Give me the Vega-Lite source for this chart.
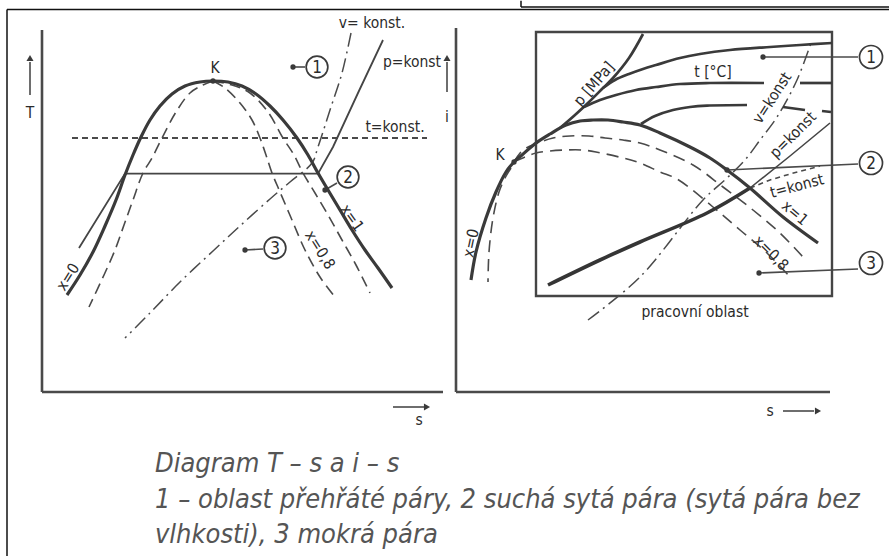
{
  "$schema": "https://vega.github.io/schema/vega-lite/v6.json",
  "background": "white",
  "padding": {"left": 6, "top": 0, "right": 0, "bottom": 0},
  "bounds": "flush",
  "spacing": 11,
  "config": {
    "view": {"stroke": null},
    "text": {"font": "DejaVu Sans Condensed, Liberation Sans Narrow, sans-serif", "fontSize": 15.5, "color": "#2b2b2b"}
  },
  "datasets": {
    "tsCurves": [
      {"k": "sat", "o": 1, "s": 6.25, "T": 24.25}, {"k": "sat", "o": 2, "s": 9.5, "T": 29.25},
      {"k": "sat", "o": 3, "s": 12.75, "T": 35}, {"k": "sat", "o": 4, "s": 15.75, "T": 41.5},
      {"k": "sat", "o": 5, "s": 18.5, "T": 48}, {"k": "sat", "o": 6, "s": 20.75, "T": 54.25},
      {"k": "sat", "o": 7, "s": 22.75, "T": 59.25}, {"k": "sat", "o": 8, "s": 24.75, "T": 63.75},
      {"k": "sat", "o": 9, "s": 27, "T": 68}, {"k": "sat", "o": 10, "s": 29.5, "T": 71.5},
      {"k": "sat", "o": 11, "s": 32.5, "T": 74.5}, {"k": "sat", "o": 12, "s": 35.75, "T": 76.5},
      {"k": "sat", "o": 13, "s": 39.5, "T": 77.5}, {"k": "sat", "o": 14, "s": 42.75, "T": 77.75},
      {"k": "sat", "o": 15, "s": 46.5, "T": 77.5}, {"k": "sat", "o": 16, "s": 50, "T": 76.5},
      {"k": "sat", "o": 17, "s": 53.5, "T": 74.5}, {"k": "sat", "o": 18, "s": 57, "T": 71.5},
      {"k": "sat", "o": 19, "s": 60.25, "T": 68}, {"k": "sat", "o": 20, "s": 63.75, "T": 63.5},
      {"k": "sat", "o": 21, "s": 66.5, "T": 59.25}, {"k": "sat", "o": 22, "s": 69, "T": 54.75},
      {"k": "sat", "o": 23, "s": 71.5, "T": 50.5}, {"k": "sat", "o": 24, "s": 74.5, "T": 45.5},
      {"k": "sat", "o": 25, "s": 77.5, "T": 40.5}, {"k": "sat", "o": 26, "s": 80.75, "T": 35.5},
      {"k": "sat", "o": 27, "s": 84, "T": 31}, {"k": "sat", "o": 28, "s": 87.5, "T": 26},

      {"k": "dL", "o": 1, "s": 42.75, "T": 77.75}, {"k": "dL", "o": 2, "s": 40.25, "T": 76.75},
      {"k": "dL", "o": 3, "s": 37, "T": 74.75}, {"k": "dL", "o": 4, "s": 33.5, "T": 70},
      {"k": "dL", "o": 5, "s": 30, "T": 63.5}, {"k": "dL", "o": 6, "s": 27.5, "T": 58.5},
      {"k": "dL", "o": 7, "s": 25.25, "T": 54.75}, {"k": "dL", "o": 8, "s": 22.75, "T": 48},
      {"k": "dL", "o": 9, "s": 20.5, "T": 41.75}, {"k": "dL", "o": 10, "s": 18.25, "T": 35.5},
      {"k": "dL", "o": 11, "s": 15.5, "T": 29.25}, {"k": "dL", "o": 12, "s": 11.75, "T": 21.25},

      {"k": "dA", "o": 1, "s": 42.75, "T": 77.75}, {"k": "dA", "o": 2, "s": 45.75, "T": 76},
      {"k": "dA", "o": 3, "s": 49.5, "T": 72.25}, {"k": "dA", "o": 4, "s": 52.5, "T": 68},
      {"k": "dA", "o": 5, "s": 54.5, "T": 63.5}, {"k": "dA", "o": 6, "s": 56, "T": 59.25},
      {"k": "dA", "o": 7, "s": 57.5, "T": 54.75}, {"k": "dA", "o": 8, "s": 59.5, "T": 50},
      {"k": "dA", "o": 9, "s": 62.5, "T": 43}, {"k": "dA", "o": 10, "s": 65.75, "T": 35.5},
      {"k": "dA", "o": 11, "s": 69.5, "T": 28.75}, {"k": "dA", "o": 12, "s": 73.25, "T": 23.75},

      {"k": "dB", "o": 1, "s": 42.75, "T": 77.75}, {"k": "dB", "o": 2, "s": 47.5, "T": 76.75},
      {"k": "dB", "o": 3, "s": 52, "T": 74.75}, {"k": "dB", "o": 4, "s": 56.5, "T": 70},
      {"k": "dB", "o": 5, "s": 60.25, "T": 63.5}, {"k": "dB", "o": 6, "s": 63, "T": 59.25},
      {"k": "dB", "o": 7, "s": 65.25, "T": 54.75}, {"k": "dB", "o": 8, "s": 68.25, "T": 49.75},
      {"k": "dB", "o": 9, "s": 71.5, "T": 44.25}, {"k": "dB", "o": 10, "s": 75, "T": 38},
      {"k": "dB", "o": 11, "s": 78.5, "T": 31.75}, {"k": "dB", "o": 12, "s": 82, "T": 24.75},

      {"k": "pk", "o": 1, "s": 9.25, "T": 36}, {"k": "pk", "o": 2, "s": 20.75, "T": 54.6},
      {"k": "pk", "o": 3, "s": 69, "T": 54.6}, {"k": "pk", "o": 4, "s": 72.75, "T": 61.25},
      {"k": "pk", "o": 5, "s": 79, "T": 74.75}, {"k": "pk", "o": 6, "s": 85.25, "T": 88},

      {"k": "vk", "o": 1, "s": 77.25, "T": 89.75}, {"k": "vk", "o": 2, "s": 75, "T": 79.75},
      {"k": "vk", "o": 3, "s": 72, "T": 70.5}, {"k": "vk", "o": 4, "s": 69, "T": 61.25},
      {"k": "vk", "o": 5, "s": 67.5, "T": 57.25}, {"k": "vk", "o": 6, "s": 62, "T": 52.5},
      {"k": "vk", "o": 7, "s": 57, "T": 48.25}, {"k": "vk", "o": 8, "s": 49.5, "T": 41.5},
      {"k": "vk", "o": 9, "s": 42.75, "T": 35.25}, {"k": "vk", "o": 10, "s": 34.5, "T": 27.5},
      {"k": "vk", "o": 11, "s": 27, "T": 19.75}, {"k": "vk", "o": 12, "s": 20.75, "T": 13.5},

      {"k": "tk", "o": 1, "s": 7.5, "T": 63.5}, {"k": "tk", "o": 2, "s": 96.25, "T": 63.5}
    ],
    "tsRules": [
      {"k": "frame", "s": -8.75, "T": 95.625, "s2": 211.75, "T2": 95.625},
      {"k": "frame", "s": -8.75, "T": 95.625, "s2": -8.75, "T2": -41},
      {"k": "frame", "s": 119.75, "T": 97.8, "s2": 119.75, "T2": 96.25},
      {"k": "frame", "s": 119.75, "T": 96.25, "s2": 211.75, "T2": 96.25},
      {"k": "axis", "s": 0, "T": 0, "s2": 0, "T2": 90.5},
      {"k": "axis", "s": 0, "T": 0, "s2": 100.25, "T2": 0},
      {"k": "thin", "s": 87.75, "T": -3.75, "s2": 95.5, "T2": -3.75},
      {"k": "thin", "s": -3, "T": 74.25, "s2": -3, "T2": 82.5},
      {"k": "thin", "s": 62.75, "T": 81.25, "s2": 65.75, "T2": 81.25},
      {"k": "thin", "s": 70.75, "T": 50.5, "s2": 73.75, "T2": 52.25},
      {"k": "thin", "s": 50.75, "T": 35.5, "s2": 55.25, "T2": 35.75}
    ],
    "tsMarks": [
      {"k": "dot", "s": 62.75, "T": 81.25}, {"k": "dot", "s": 70.75, "T": 50.5},
      {"k": "dot", "s": 50.75, "T": 35.5}, {"k": "dot", "s": 42.75, "T": 77.75},
      {"k": "right", "s": 96.25, "T": -3.75}, {"k": "up", "s": -3, "T": 83.5},
      {"k": "ring", "s": 68.75, "T": 81.25, "text": "1"},
      {"k": "ring", "s": 76.5, "T": 53.75, "text": "2"},
      {"k": "ring", "s": 58.25, "T": 36, "text": "3"}
    ],
    "tsText": [
      {"k": "flat", "s": 43.25, "T": 81, "text": "K"},
      {"k": "flat", "s": 82.5, "T": 92.25, "text": "v= konst."},
      {"k": "flat", "s": 92.5, "T": 82.5, "text": "p=konst"},
      {"k": "flat", "s": 88.25, "T": 66.25, "text": "t=konst."},
      {"k": "flat", "s": -3, "T": 69.75, "text": "T"},
      {"k": "flat", "s": 94.25, "T": -7, "text": "s"},
      {"k": "x1", "s": 77.5, "T": 43.5, "text": "x=1"},
      {"k": "x08", "s": 69.5, "T": 35.5, "text": "x=0,8"},
      {"k": "x0", "s": 6.5, "T": 28.75, "text": "x=0"},
      {"k": "cap", "s": 28.25, "T": -20, "text": "Diagram T – s a i – s"},
      {"k": "cap", "s": 28.25, "T": -29, "text": "1 – oblast přehřáté páry, 2 suchá sytá pára (sytá pára bez"},
      {"k": "cap", "s": 28.25, "T": -37.75, "text": "vlhkosti), 3 mokrá pára"}
    ],
    "isCurves": [
      {"k": "sat", "o": 1, "s": 3.75, "i": 28}, {"k": "sat", "o": 2, "s": 5, "i": 35},
      {"k": "sat", "o": 3, "s": 7.5, "i": 43.5}, {"k": "sat", "o": 4, "s": 10, "i": 50},
      {"k": "sat", "o": 5, "s": 12.5, "i": 55}, {"k": "sat", "o": 6, "s": 14.5, "i": 57.5},
      {"k": "sat", "o": 7, "s": 16.5, "i": 59.25}, {"k": "sat", "o": 8, "s": 20, "i": 62.25},
      {"k": "sat", "o": 9, "s": 23.5, "i": 64.5}, {"k": "sat", "o": 10, "s": 27.5, "i": 66.75},
      {"k": "sat", "o": 11, "s": 31, "i": 67.75}, {"k": "sat", "o": 12, "s": 34.25, "i": 68},
      {"k": "sat", "o": 13, "s": 38, "i": 68}, {"k": "sat", "o": 14, "s": 41.75, "i": 67.5},
      {"k": "sat", "o": 15, "s": 46, "i": 66.75}, {"k": "sat", "o": 16, "s": 51, "i": 64.75},
      {"k": "sat", "o": 17, "s": 58.5, "i": 61.25}, {"k": "sat", "o": 18, "s": 63.5, "i": 58.5},
      {"k": "sat", "o": 19, "s": 67.75, "i": 55.5}, {"k": "sat", "o": 20, "s": 73.5, "i": 51},
      {"k": "sat", "o": 21, "s": 81.75, "i": 43.75}, {"k": "sat", "o": 22, "s": 90.5, "i": 37.25},

      {"k": "pMPa", "o": 1, "s": 26, "i": 66}, {"k": "pMPa", "o": 2, "s": 29.75, "i": 69.25},
      {"k": "pMPa", "o": 3, "s": 33.25, "i": 72.5}, {"k": "pMPa", "o": 4, "s": 36.75, "i": 76},
      {"k": "pMPa", "o": 5, "s": 39.25, "i": 78.5}, {"k": "pMPa", "o": 6, "s": 43.25, "i": 83.5},
      {"k": "pMPa", "o": 7, "s": 46.75, "i": 89.5},

      {"k": "t1", "o": 1, "s": 36.75, "i": 76}, {"k": "t1", "o": 2, "s": 39.75, "i": 78},
      {"k": "t1", "o": 3, "s": 43.25, "i": 79.5}, {"k": "t1", "o": 4, "s": 46.75, "i": 80.75},
      {"k": "t1", "o": 5, "s": 50, "i": 81.75}, {"k": "t1", "o": 6, "s": 56, "i": 83.5},
      {"k": "t1", "o": 7, "s": 61, "i": 84.5}, {"k": "t1", "o": 8, "s": 68.5, "i": 85.5},
      {"k": "t1", "o": 9, "s": 78.5, "i": 86.25}, {"k": "t1", "o": 10, "s": 86, "i": 86.75},
      {"k": "t1", "o": 11, "s": 94, "i": 87.25},

      {"k": "t2a", "o": 1, "s": 32, "i": 71.25}, {"k": "t2a", "o": 2, "s": 36, "i": 73},
      {"k": "t2a", "o": 3, "s": 40, "i": 74.25}, {"k": "t2a", "o": 4, "s": 45, "i": 75.5},
      {"k": "t2a", "o": 5, "s": 50, "i": 76.25}, {"k": "t2a", "o": 6, "s": 56, "i": 77},
      {"k": "t2a", "o": 7, "s": 63.5, "i": 77.25}, {"k": "t2a", "o": 8, "s": 77, "i": 77.25},
      {"k": "t2b", "o": 1, "s": 86, "i": 77.25}, {"k": "t2b", "o": 2, "s": 94, "i": 77.25},

      {"k": "t3a", "o": 1, "s": 46.25, "i": 67}, {"k": "t3a", "o": 2, "s": 49.75, "i": 69},
      {"k": "t3a", "o": 3, "s": 54.25, "i": 70.5}, {"k": "t3a", "o": 4, "s": 58.5, "i": 71.25},
      {"k": "t3a", "o": 5, "s": 62.75, "i": 71.6}, {"k": "t3a", "o": 6, "s": 72.75, "i": 71.75},
      {"k": "t3b", "o": 1, "s": 81.75, "i": 71.25}, {"k": "t3b", "o": 2, "s": 87.25, "i": 70.5},
      {"k": "t3c", "o": 1, "s": 91.5, "i": 70.25}, {"k": "t3c", "o": 2, "s": 93.75, "i": 70},

      {"k": "dA", "o": 1, "s": 14.5, "i": 57.5}, {"k": "dA", "o": 2, "s": 16.75, "i": 60.5},
      {"k": "dA", "o": 3, "s": 20.5, "i": 62.25}, {"k": "dA", "o": 4, "s": 24.25, "i": 63.5},
      {"k": "dA", "o": 5, "s": 28.5, "i": 64}, {"k": "dA", "o": 6, "s": 33.25, "i": 64},
      {"k": "dA", "o": 7, "s": 37.25, "i": 63.5}, {"k": "dA", "o": 8, "s": 41.75, "i": 63},
      {"k": "dA", "o": 9, "s": 46, "i": 62.25}, {"k": "dA", "o": 10, "s": 51, "i": 60.5},
      {"k": "dA", "o": 11, "s": 59.25, "i": 56.75}, {"k": "dA", "o": 12, "s": 66.75, "i": 51.25},
      {"k": "dA", "o": 13, "s": 74.25, "i": 45.5}, {"k": "dA", "o": 14, "s": 81, "i": 39.75},
      {"k": "dA", "o": 15, "s": 86.75, "i": 33.75},

      {"k": "dB", "o": 1, "s": 14.5, "i": 57.5}, {"k": "dB", "o": 2, "s": 17.25, "i": 58.75},
      {"k": "dB", "o": 3, "s": 20, "i": 59.75}, {"k": "dB", "o": 4, "s": 23.5, "i": 60.25},
      {"k": "dB", "o": 5, "s": 27.5, "i": 60.5}, {"k": "dB", "o": 6, "s": 31.5, "i": 60.5},
      {"k": "dB", "o": 7, "s": 35, "i": 60}, {"k": "dB", "o": 8, "s": 41.75, "i": 58.5},
      {"k": "dB", "o": 9, "s": 46, "i": 57.25}, {"k": "dB", "o": 10, "s": 51, "i": 55},
      {"k": "dB", "o": 11, "s": 55.25, "i": 53.25}, {"k": "dB", "o": 12, "s": 64.25, "i": 46.25},
      {"k": "dB", "o": 13, "s": 71, "i": 40.5}, {"k": "dB", "o": 14, "s": 77.75, "i": 34.75},
      {"k": "dB", "o": 15, "s": 83.5, "i": 28.75},

      {"k": "dC", "o": 1, "s": 13.75, "i": 56}, {"k": "dC", "o": 2, "s": 12.25, "i": 53.5},
      {"k": "dC", "o": 3, "s": 10.75, "i": 50}, {"k": "dC", "o": 4, "s": 9.25, "i": 43.5},
      {"k": "dC", "o": 5, "s": 8.25, "i": 35}, {"k": "dC", "o": 6, "s": 8, "i": 27.5},

      {"k": "pw", "o": 1, "s": 23, "i": 26.75}, {"k": "pw", "o": 2, "s": 36, "i": 33},
      {"k": "pw", "o": 3, "s": 46, "i": 37.5}, {"k": "pw", "o": 4, "s": 62.75, "i": 44.75},
      {"k": "pw", "o": 5, "s": 73.5, "i": 51},
      {"k": "pk", "o": 1, "s": 73.5, "i": 51}, {"k": "pk", "o": 2, "s": 83.5, "i": 59},
      {"k": "pk", "o": 3, "s": 93.5, "i": 67.25},

      {"k": "vk", "o": 1, "s": 33, "i": 18}, {"k": "vk", "o": 2, "s": 46, "i": 28.75},
      {"k": "vk", "o": 3, "s": 61.75, "i": 48}, {"k": "vk", "o": 4, "s": 67.75, "i": 53.5},
      {"k": "vk", "o": 5, "s": 72.25, "i": 58}, {"k": "vk", "o": 6, "s": 76, "i": 63},
      {"k": "vk", "o": 7, "s": 80.25, "i": 68.75}, {"k": "vk", "o": 8, "s": 85.25, "i": 78},
      {"k": "vk", "o": 9, "s": 89, "i": 88},

      {"k": "tk", "o": 1, "s": 73.5, "i": 51}, {"k": "tk", "o": 2, "s": 78.5, "i": 53},
      {"k": "tk", "o": 3, "s": 83.5, "i": 54.5}, {"k": "tk", "o": 4, "s": 91, "i": 56.5}
    ],
    "isRules": [
      {"k": "axis", "s": 0, "i": 0, "s2": 0, "i2": 91},
      {"k": "axis", "s": 0, "i": 0, "s2": 93.5, "i2": 0},
      {"k": "thin", "s": 81.75, "i": -4.75, "s2": 89.5, "i2": -4.75},
      {"k": "thin", "s": -2.25, "i": 75, "s2": -2.25, "i2": 82.5},
      {"k": "thin", "s": 76.75, "i": 83.75, "s2": 100.5, "i2": 83.75},
      {"k": "thin", "s": 67.75, "i": 55.5, "s2": 100.5, "i2": 57},
      {"k": "thin", "s": 75.75, "i": 29.75, "s2": 100.5, "i2": 30.75}
    ],
    "isBox": [{"s": 20, "i": 24, "s2": 94, "i2": 90}],
    "isMarks": [
      {"k": "dot", "s": 76.75, "i": 83.75}, {"k": "dot", "s": 67.75, "i": 55.5},
      {"k": "dot", "s": 75.75, "i": 29.75}, {"k": "dot", "s": 14.5, "i": 57.5},
      {"k": "right", "s": 90.5, "i": -4.75}, {"k": "up", "s": -2.25, "i": 83.5},
      {"k": "ring", "s": 103.75, "i": 83.75, "text": "1"},
      {"k": "ring", "s": 103.75, "i": 57.25, "text": "2"},
      {"k": "ring", "s": 103.75, "i": 32.25, "text": "3"}
    ],
    "isText": [
      {"k": "flat", "s": 11, "i": 59.25, "text": "K"},
      {"k": "flat", "s": 64.25, "i": 80, "text": "t [°C]"},
      {"k": "flat", "s": 59.75, "i": 20, "text": "pracovní oblast"},
      {"k": "flat", "s": -2.25, "i": 68.75, "text": "i"},
      {"k": "flat", "s": 78.5, "i": -4.75, "text": "s"},
      {"k": "x0", "s": 3.75, "i": 37.25, "text": "x=0"},
      {"k": "pMPa", "s": 34.5, "i": 77, "text": "p [MPa]"},
      {"k": "vk", "s": 79, "i": 73.5, "text": "v=konst"},
      {"k": "pk", "s": 84.25, "i": 64.25, "text": "p=konst"},
      {"k": "tk", "s": 85.25, "i": 51.5, "text": "t=konst"},
      {"k": "x1", "s": 84.75, "i": 44.75, "text": "x=1"},
      {"k": "x08", "s": 78.75, "i": 34.75, "text": "x=0,8"}
    ]
  },
  "hconcat": [
    {
      "width": 403,
      "height": 364,
      "encoding": {
        "x": {"field": "s", "type": "quantitative", "scale": {"domain": [0, 100.75], "nice": false, "zero": false}, "axis": null},
        "y": {"field": "T", "type": "quantitative", "scale": {"domain": [0, 91], "nice": false, "zero": false}, "axis": null}
      },
      "layer": [
        {"data": {"name": "tsRules"}, "transform": [{"filter": "datum.k === 'frame'"}],
         "mark": {"type": "rule", "color": "#111111", "strokeWidth": 1.5},
         "encoding": {"x2": {"field": "s2"}, "y2": {"field": "T2"}}},
        {"data": {"name": "tsRules"}, "transform": [{"filter": "datum.k === 'axis'"}],
         "mark": {"type": "rule", "color": "#4a4a4a", "strokeWidth": 2.6},
         "encoding": {"x2": {"field": "s2"}, "y2": {"field": "T2"}}},
        {"data": {"name": "tsRules"}, "transform": [{"filter": "datum.k === 'thin'"}],
         "mark": {"type": "rule", "color": "#4a4a4a", "strokeWidth": 1.6},
         "encoding": {"x2": {"field": "s2"}, "y2": {"field": "T2"}}},
        {"data": {"name": "tsCurves"}, "transform": [{"filter": "datum.k === 'tk'"}],
         "mark": {"type": "line", "color": "#4a4a4a", "strokeWidth": 2, "strokeDash": [6, 4]},
         "encoding": {"order": {"field": "o"}}},
        {"data": {"name": "tsCurves"}, "transform": [{"filter": "datum.k === 'dL' || datum.k === 'dA' || datum.k === 'dB'"}],
         "mark": {"type": "line", "color": "#4a4a4a", "strokeWidth": 1.6, "strokeDash": [11, 6], "interpolate": "catmull-rom"},
         "encoding": {"order": {"field": "o"}, "detail": {"field": "k"}}},
        {"data": {"name": "tsCurves"}, "transform": [{"filter": "datum.k === 'vk'"}],
         "mark": {"type": "line", "color": "#4a4a4a", "strokeWidth": 1.5, "strokeDash": [14, 5, 2, 5], "interpolate": "catmull-rom"},
         "encoding": {"order": {"field": "o"}}},
        {"data": {"name": "tsCurves"}, "transform": [{"filter": "datum.k === 'pk'"}],
         "mark": {"type": "line", "color": "#454545", "strokeWidth": 1.8},
         "encoding": {"order": {"field": "o"}}},
        {"data": {"name": "tsCurves"}, "transform": [{"filter": "datum.k === 'sat'"}],
         "mark": {"type": "line", "color": "#3a3a3a", "strokeWidth": 3.2, "interpolate": "catmull-rom"},
         "encoding": {"order": {"field": "o"}}},
        {"data": {"name": "tsMarks"}, "transform": [{"filter": "datum.k === 'dot'"}],
         "mark": {"type": "point", "shape": "circle", "filled": true, "size": 28, "color": "#3a3a3a", "opacity": 1}},
        {"data": {"name": "tsMarks"}, "transform": [{"filter": "datum.k === 'right'"}],
         "mark": {"type": "point", "shape": "triangle-right", "filled": true, "size": 50, "color": "#3a3a3a", "opacity": 1}},
        {"data": {"name": "tsMarks"}, "transform": [{"filter": "datum.k === 'up'"}],
         "mark": {"type": "point", "shape": "triangle-up", "filled": true, "size": 50, "color": "#3a3a3a", "opacity": 1}},
        {"data": {"name": "tsMarks"}, "transform": [{"filter": "datum.k === 'ring'"}],
         "mark": {"type": "point", "shape": "circle", "size": 470, "fill": "white", "stroke": "#3a3a3a", "strokeWidth": 1.7, "opacity": 1}},
        {"data": {"name": "tsMarks"}, "transform": [{"filter": "datum.k === 'ring'"}],
         "mark": {"type": "text", "fontSize": 17, "baseline": "middle", "dy": 1, "color": "#2b2b2b"},
         "encoding": {"text": {"field": "text"}}},
        {"data": {"name": "tsText"}, "transform": [{"filter": "datum.k === 'flat'"}],
         "mark": {"type": "text", "baseline": "middle", "color": "#2b2b2b"},
         "encoding": {"text": {"field": "text"}}},
        {"data": {"name": "tsText"}, "transform": [{"filter": "datum.k === 'x1'"}],
         "mark": {"type": "text", "baseline": "middle", "angle": 55, "color": "#2b2b2b"},
         "encoding": {"text": {"field": "text"}}},
        {"data": {"name": "tsText"}, "transform": [{"filter": "datum.k === 'x08'"}],
         "mark": {"type": "text", "baseline": "middle", "angle": 58, "color": "#2b2b2b"},
         "encoding": {"text": {"field": "text"}}},
        {"data": {"name": "tsText"}, "transform": [{"filter": "datum.k === 'x0'"}],
         "mark": {"type": "text", "baseline": "middle", "angle": -58, "color": "#2b2b2b"},
         "encoding": {"text": {"field": "text"}}},
        {"data": {"name": "tsText"}, "transform": [{"filter": "datum.k === 'cap'"}],
         "mark": {"type": "text", "align": "left", "baseline": "alphabetic", "fontSize": 27, "fontStyle": "italic", "color": "#555555"},
         "encoding": {"text": {"field": "text"}}}
      ]
    },
    {
      "width": 379,
      "height": 364,
      "encoding": {
        "x": {"field": "s", "type": "quantitative", "scale": {"domain": [0, 94.75], "nice": false, "zero": false}, "axis": null},
        "y": {"field": "i", "type": "quantitative", "scale": {"domain": [0, 91], "nice": false, "zero": false}, "axis": null}
      },
      "layer": [
        {"data": {"name": "isRules"}, "transform": [{"filter": "datum.k === 'axis'"}],
         "mark": {"type": "rule", "color": "#4a4a4a", "strokeWidth": 2.6},
         "encoding": {"x2": {"field": "s2"}, "y2": {"field": "i2"}}},
        {"data": {"name": "isRules"}, "transform": [{"filter": "datum.k === 'thin'"}],
         "mark": {"type": "rule", "color": "#4a4a4a", "strokeWidth": 1.6},
         "encoding": {"x2": {"field": "s2"}, "y2": {"field": "i2"}}},
        {"data": {"name": "isBox"},
         "mark": {"type": "rect", "filled": false, "stroke": "#454545", "strokeWidth": 2.4},
         "encoding": {"x2": {"field": "s2"}, "y2": {"field": "i2"}}},
        {"data": {"name": "isCurves"}, "transform": [{"filter": "datum.k === 'tk'"}],
         "mark": {"type": "line", "color": "#4a4a4a", "strokeWidth": 1.6, "strokeDash": [5, 4]},
         "encoding": {"order": {"field": "o"}}},
        {"data": {"name": "isCurves"}, "transform": [{"filter": "datum.k === 'dA' || datum.k === 'dB' || datum.k === 'dC'"}],
         "mark": {"type": "line", "color": "#4a4a4a", "strokeWidth": 1.6, "strokeDash": [12, 7], "interpolate": "catmull-rom"},
         "encoding": {"order": {"field": "o"}, "detail": {"field": "k"}}},
        {"data": {"name": "isCurves"}, "transform": [{"filter": "datum.k === 'vk'"}],
         "mark": {"type": "line", "color": "#4a4a4a", "strokeWidth": 1.5, "strokeDash": [14, 5, 2, 5], "interpolate": "catmull-rom"},
         "encoding": {"order": {"field": "o"}}},
        {"data": {"name": "isCurves"}, "transform": [{"filter": "datum.k === 'pk'"}],
         "mark": {"type": "line", "color": "#454545", "strokeWidth": 1.6},
         "encoding": {"order": {"field": "o"}}},
        {"data": {"name": "isCurves"}, "transform": [{"filter": "datum.k === 'pw'"}],
         "mark": {"type": "line", "color": "#353535", "strokeWidth": 3.6, "interpolate": "catmull-rom"},
         "encoding": {"order": {"field": "o"}}},
        {"data": {"name": "isCurves"}, "transform": [{"filter": "datum.k === 'pMPa' || datum.k === 't1' || datum.k === 't2a' || datum.k === 't2b' || datum.k === 't3a' || datum.k === 't3b' || datum.k === 't3c'"}],
         "mark": {"type": "line", "color": "#3a3a3a", "strokeWidth": 2.7, "interpolate": "catmull-rom"},
         "encoding": {"order": {"field": "o"}, "detail": {"field": "k"}}},
        {"data": {"name": "isCurves"}, "transform": [{"filter": "datum.k === 'sat'"}],
         "mark": {"type": "line", "color": "#3a3a3a", "strokeWidth": 3.2, "interpolate": "catmull-rom"},
         "encoding": {"order": {"field": "o"}}},
        {"data": {"name": "isMarks"}, "transform": [{"filter": "datum.k === 'dot'"}],
         "mark": {"type": "point", "shape": "circle", "filled": true, "size": 28, "color": "#3a3a3a", "opacity": 1}},
        {"data": {"name": "isMarks"}, "transform": [{"filter": "datum.k === 'right'"}],
         "mark": {"type": "point", "shape": "triangle-right", "filled": true, "size": 50, "color": "#3a3a3a", "opacity": 1}},
        {"data": {"name": "isMarks"}, "transform": [{"filter": "datum.k === 'up'"}],
         "mark": {"type": "point", "shape": "triangle-up", "filled": true, "size": 50, "color": "#3a3a3a", "opacity": 1}},
        {"data": {"name": "isMarks"}, "transform": [{"filter": "datum.k === 'ring'"}],
         "mark": {"type": "point", "shape": "circle", "size": 530, "fill": "white", "stroke": "#3a3a3a", "strokeWidth": 1.7, "opacity": 1}},
        {"data": {"name": "isMarks"}, "transform": [{"filter": "datum.k === 'ring'"}],
         "mark": {"type": "text", "fontSize": 17, "baseline": "middle", "dy": 1, "color": "#2b2b2b"},
         "encoding": {"text": {"field": "text"}}},
        {"data": {"name": "isText"}, "transform": [{"filter": "datum.k === 'flat'"}],
         "mark": {"type": "text", "baseline": "middle", "color": "#2b2b2b"},
         "encoding": {"text": {"field": "text"}}},
        {"data": {"name": "isText"}, "transform": [{"filter": "datum.k === 'x0'"}],
         "mark": {"type": "text", "baseline": "middle", "angle": -78, "color": "#2b2b2b"},
         "encoding": {"text": {"field": "text"}}},
        {"data": {"name": "isText"}, "transform": [{"filter": "datum.k === 'pMPa'"}],
         "mark": {"type": "text", "baseline": "middle", "angle": -49, "color": "#2b2b2b"},
         "encoding": {"text": {"field": "text"}}},
        {"data": {"name": "isText"}, "transform": [{"filter": "datum.k === 'vk'"}],
         "mark": {"type": "text", "baseline": "middle", "angle": -57, "color": "#2b2b2b"},
         "encoding": {"text": {"field": "text"}}},
        {"data": {"name": "isText"}, "transform": [{"filter": "datum.k === 'pk'"}],
         "mark": {"type": "text", "baseline": "middle", "angle": -45, "color": "#2b2b2b"},
         "encoding": {"text": {"field": "text"}}},
        {"data": {"name": "isText"}, "transform": [{"filter": "datum.k === 'tk'"}],
         "mark": {"type": "text", "baseline": "middle", "angle": -15, "color": "#2b2b2b"},
         "encoding": {"text": {"field": "text"}}},
        {"data": {"name": "isText"}, "transform": [{"filter": "datum.k === 'x1'"}],
         "mark": {"type": "text", "baseline": "middle", "angle": 40, "color": "#2b2b2b"},
         "encoding": {"text": {"field": "text"}}},
        {"data": {"name": "isText"}, "transform": [{"filter": "datum.k === 'x08'"}],
         "mark": {"type": "text", "baseline": "middle", "angle": 45, "color": "#2b2b2b"},
         "encoding": {"text": {"field": "text"}}}
      ]
    }
  ]
}
